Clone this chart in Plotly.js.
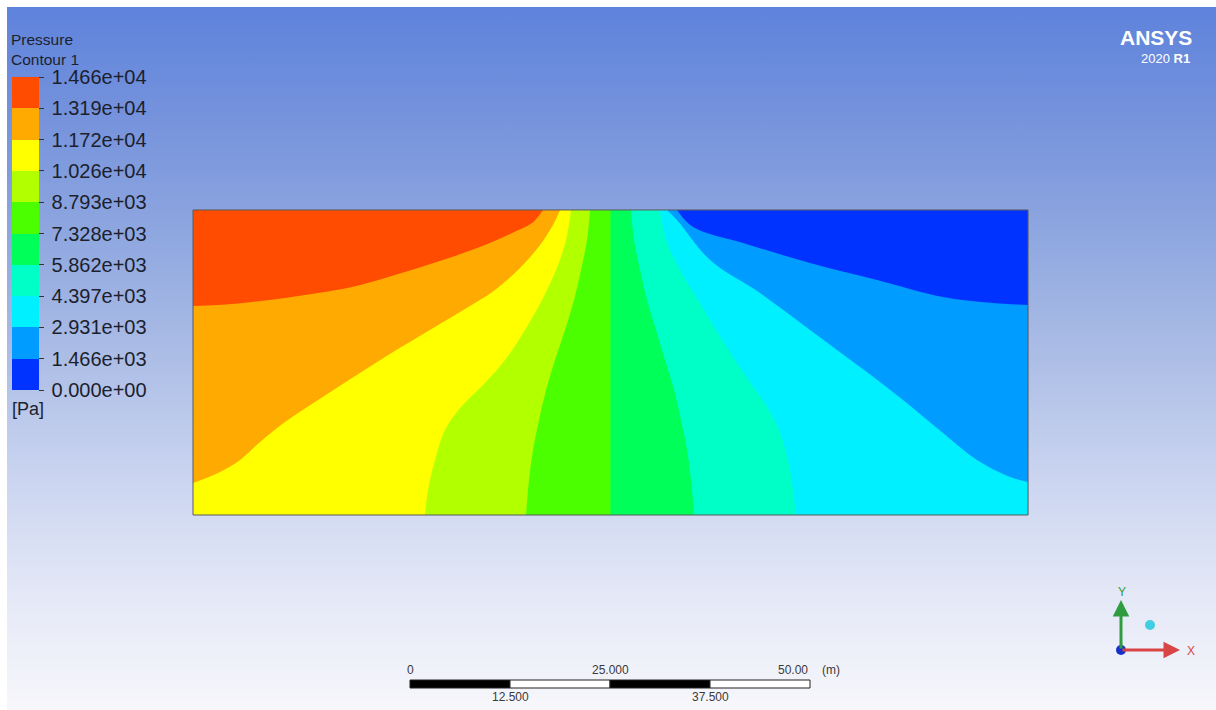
<!DOCTYPE html>
<html>
<head>
<meta charset="utf-8">
<script src="https://cdn.plot.ly/plotly-3.0.1.min.js"></script>
<style>
  html, body { margin: 0; padding: 0; background: #ffffff; }
  #wrap { position: relative; width: 1216px; height: 710px; overflow: hidden; background: #ffffff; }
  #bg { position: absolute; left: 7px; top: 7px; right: 0; bottom: 0;
        background: linear-gradient(to bottom, #5e83dc 0px, #7693dc 113px, #90a8e0 233px,
          #adbee6 353px, #cbd5f0 473px, #e5e9f7 593px, #f7f7fb 703px); }
  #chart { position: absolute; left: 0; top: 0; width: 1216px; height: 710px; }
</style>
</head>
<body>
<div id="wrap"><div id="bg"></div><div id="chart"></div></div>
<script>
// ---- data (pressure contour, domain in metres) ----
const domainW = 104.38;   // m
const domainH = 38.13;    // m

const levels = [0, 1466, 2931, 4397, 5862, 7328, 8793, 10260, 11720, 13190, 14660];
const levelLabels = ["0.000e+00", "1.466e+03", "2.931e+03", "4.397e+03", "5.862e+03",
  "7.328e+03", "8.793e+03", "1.026e+04", "1.172e+04", "1.319e+04", "1.466e+04"];

// isolines (x, y in m), each from the top edge to where it leaves the domain
const iso1466_x = [60.5, 62.5, 68.75, 77.13, 85.5, 93.75, 100, 104.38];
const iso1466_y = [38.13, 36, 34, 31.5, 29.38, 27.25, 26.5, 26.25];

const iso2931_x = [59.25, 60.5, 64.63, 70.88, 77.13, 83.38, 88.75, 93.75, 98, 102.13, 104.38];
const iso2931_y = [38.13, 36.88, 31.88, 27.75, 23.13, 18.5, 14.38, 10.25, 6.88, 4.75, 4.13];

const iso4397_x = [58.38, 59.13, 60.88, 63.13, 65.38, 67.75, 69.88, 71.63, 73.25, 74.38, 75, 75.38];
const iso4397_y = [38.13, 34.38, 30.63, 26.88, 23.13, 19.38, 16.25, 13.75, 10.63, 6.88, 3.13, 0];

const iso5862_x = [54.75, 55.13, 55.88, 56.75, 57.88, 59, 60.13, 61, 61.75, 62.25, 62.63];
const iso5862_y = [38.13, 34.38, 30.63, 26.88, 23.13, 19.38, 15.63, 11.88, 8.13, 4.38, 0];

const iso7328_x = [52.19, 52.19];
const iso7328_y = [38.13, 0];

const iso8793_x = [49.63, 49.25, 48.5, 47.63, 46.5, 45.25, 44.13, 43.25, 42.5, 42, 41.63];
const iso8793_y = [38.13, 34.38, 30.63, 26.88, 23.13, 19.38, 15.63, 11.88, 8.13, 4.38, 0];

const iso10260_x = [47.25, 46.63, 45.38, 43.63, 41.5, 39, 36.25, 33.5, 31.5, 30.25, 29.38, 29];
const iso10260_y = [38.13, 34.38, 30.63, 26.88, 23.13, 19.38, 16.25, 13.5, 10.63, 6.88, 3.13, 0];

const iso11720_x = [45.88, 45, 43.38, 40.88, 37.75, 33.38, 28.13, 24, 19.88, 15.63, 11.5, 8.38, 5.88, 3.13, 0];
const iso11720_y = [38.13, 36.25, 33.75, 30.88, 28.13, 25.38, 22.25, 19.75, 17.13, 14.38, 11.63, 9.13, 6.88, 5.25, 4.0];

const iso13190_x = [43.75, 42.38, 39.88, 36.5, 32.38, 28.13, 24, 19.88, 15.63, 11.5, 7.38, 3.13, 0];
const iso13190_y = [38.13, 36.5, 35.25, 33.75, 32.25, 30.88, 29.63, 28.5, 27.75, 27.13, 26.63, 26.25, 26.13];

// scale bar values (m)
const scaleTop = [0, 25, 50];
const scaleTopLabels = ["0", "25.000", "50.00"];
const scaleBottom = [12.5, 37.5];
const scaleBottomLabels = ["12.500", "37.500"];

// ---- styles ----
const bandColors = ["#0033ff", "#009cff", "#00f0ff", "#00ffc6", "#00ff58", "#4cff00",
  "#b2ff00", "#ffff00", "#ffaa00", "#ff4c00"];

const PXW = 1216, PXH = 710, MPP = 8;          // 8 px per metre
const originPx = [193, 515];                    // domain lower-left corner in px
const xr = [-originPx[0] / MPP, (PXW - originPx[0]) / MPP];
const yr = [(originPx[1] - PXH) / MPP, originPx[1] / MPP];

// boundary path along the domain edge, from the isoline's start to its end (going round the high side)
function edgePath(ix, iy, exit) {
  const n = ix.length - 1;
  const x = [ix[0], 0], y = [iy[0], domainH];
  if (exit === 'bottom') { x.push(0); y.push(0); }
  if (exit === 'right') { x.push(0, domainW); y.push(0, 0); }
  x.push(ix[n]); y.push(iy[n]);
  return { x, y };
}

const isolines = [
  [iso1466_x, iso1466_y, 'right'],
  [iso2931_x, iso2931_y, 'right'],
  [iso4397_x, iso4397_y, 'bottom'],
  [iso5862_x, iso5862_y, 'bottom'],
  [iso7328_x, iso7328_y, 'bottom'],
  [iso8793_x, iso8793_y, 'bottom'],
  [iso10260_x, iso10260_y, 'bottom'],
  [iso11720_x, iso11720_y, 'left'],
  [iso13190_x, iso13190_y, 'left']
];

const traces = [];
traces.push({
  type: 'scatter', mode: 'lines', x: [0, domainW, domainW, 0, 0], y: [0, 0, domainH, domainH, 0],
  fill: 'toself', fillcolor: bandColors[0], line: { width: 0 }, hoverinfo: 'skip'
});
isolines.forEach((d, i) => {
  const e = edgePath(d[0], d[1], d[2]);
  traces.push({ type: 'scatter', mode: 'lines', x: e.x, y: e.y, line: { width: 0 }, hoverinfo: 'skip' });
  traces.push({
    type: 'scatter', mode: 'lines', x: d[0], y: d[1], fill: 'tonext',
    fillcolor: bandColors[i + 1], line: { width: 0, shape: 'spline', smoothing: 1 }, hoverinfo: 'skip'
  });
});

// colour legend
const cmax = levels[levels.length - 1];
const cscale = [];
for (let i = 0; i < bandColors.length; i++) {
  cscale.push([levels[i] / cmax, bandColors[i]]);
  cscale.push([levels[i + 1] / cmax, bandColors[i]]);
}
traces.push({
  type: 'scatter', mode: 'markers', x: [null], y: [null], hoverinfo: 'skip',
  marker: {
    color: [0], cmin: 0, cmax: cmax, colorscale: cscale, showscale: true,
    colorbar: {
      x: 12 / PXW, xanchor: 'left', xpad: 0,
      y: 1 - 77 / PXH, yanchor: 'top', ypad: 0,
      len: 313, lenmode: 'pixels', thickness: 27, thicknessmode: 'pixels',
      outlinewidth: 0, ticks: 'outside', ticklen: 5, tickwidth: 1, tickcolor: '#333',
      tickvals: levels, ticktext: levelLabels.map(s => '\u2009' + s),
      tickfont: { family: 'Liberation Sans, Arial, sans-serif', size: 20, color: '#1c1f2e' }
    }
  }
});

const font = 'Liberation Sans, Arial, sans-serif';
function P(x, y) { return { x: x / PXW, y: 1 - y / PXH }; }
const ann = [];
function txt(x, y, text, size, color, xanchor, extra) {
  const p = P(x, y);
  ann.push(Object.assign({ xref: 'paper', yref: 'paper', x: p.x, y: p.y, text: text, showarrow: false,
    xanchor: xanchor || 'left', yanchor: 'middle', font: { family: font, size: size, color: color } }, extra || {}));
}
txt(10, 49, 'Pressure<br>Contour 1', 15.5, '#1c1f2e', 'left', { align: 'left', borderpad: 0 });
txt(10, 409, '[Pa]', 18, '#1c1f2e');
txt(1193, 37, '<b>ANSYS</b>', 21, '#ffffff', 'right', { borderpad: 0 });
txt(1191, 58, '2020 <b>R1</b>', 13, '#ffffff', 'right', { borderpad: 0 });

// scale bar labels (x on the metre axis)
const s0 = (410 - originPx[0]) / MPP;
scaleTop.forEach((v, i) => {
  ann.push({ xref: 'x', yref: 'paper', x: s0 + v, y: 1 - 670 / PXH, text: scaleTopLabels[i], showarrow: false,
    xanchor: i === scaleTop.length - 1 ? 'right' : 'center', yanchor: 'middle',
    font: { family: font, size: 12, color: '#3a3a3a' } });
});
ann.push({ xref: 'x', yref: 'paper', x: s0 + 50, y: 1 - 670 / PXH, text: '(m)', showarrow: false,
  xanchor: 'left', yanchor: 'middle', xshift: 10, font: { family: font, size: 12, color: '#3a3a3a' } });
scaleBottom.forEach((v, i) => {
  ann.push({ xref: 'x', yref: 'paper', x: s0 + v, y: 1 - 697 / PXH, text: scaleBottomLabels[i], showarrow: false,
    xanchor: 'center', yanchor: 'middle', font: { family: font, size: 12, color: '#3a3a3a' } });
});

// axis triad
const o = P(1121, 650);
ann.push({ xref: 'paper', yref: 'paper', x: o.x, y: P(0, 600).y, ax: 0, ay: 50, text: '', showarrow: true,
  arrowhead: 2, arrowsize: 1.1, arrowwidth: 3, arrowcolor: '#2e9c3f' });
ann.push({ xref: 'paper', yref: 'paper', x: P(1180, 0).x, y: o.y, ax: -59, ay: 0, text: '', showarrow: true,
  arrowhead: 2, arrowsize: 1.1, arrowwidth: 3, arrowcolor: '#d94545' });
txt(1122, 592, 'Y', 12, '#2e9c3f', 'center');
txt(1191, 651, 'X', 12, '#d94545', 'center');

const shapes = [];
shapes.push({ type: 'rect', xref: 'x', yref: 'y', x0: 0, x1: domainW, y0: 0, y1: domainH,
  line: { color: '#5a5a5a', width: 1 }, fillcolor: 'rgba(0,0,0,0)', layer: 'above' });
for (let i = 0; i < 4; i++) {
  shapes.push({ type: 'rect', xref: 'x', yref: 'paper', x0: s0 + i * 12.5, x1: s0 + (i + 1) * 12.5,
    y0: 1 - 688 / PXH, y1: 1 - 680 / PXH, fillcolor: i % 2 === 0 ? '#000000' : '#ffffff',
    line: { color: '#222', width: 1 } });
}
function dot(xp, yp, r, color) {
  const p = P(xp, yp);
  shapes.push({ type: 'circle', xref: 'paper', yref: 'paper', xsizemode: 'pixel', ysizemode: 'pixel',
    xanchor: p.x, yanchor: p.y, x0: -r, x1: r, y0: -r, y1: r, fillcolor: color, line: { width: 0 } });
}
dot(1121, 650, 5, '#1530c8');
dot(1150, 625, 5, '#3fcfe0');

const layout = {
  width: PXW, height: PXH, margin: { l: 0, r: 0, t: 0, b: 0 },
  paper_bgcolor: 'rgba(0,0,0,0)', plot_bgcolor: 'rgba(0,0,0,0)', showlegend: false,
  xaxis: { range: xr, visible: false, fixedrange: true },
  yaxis: { range: yr, visible: false, fixedrange: true },
  annotations: ann, shapes: shapes
};
Plotly.newPlot('chart', traces, layout, { displayModeBar: false, staticPlot: true });
</script>
</body>
</html>
